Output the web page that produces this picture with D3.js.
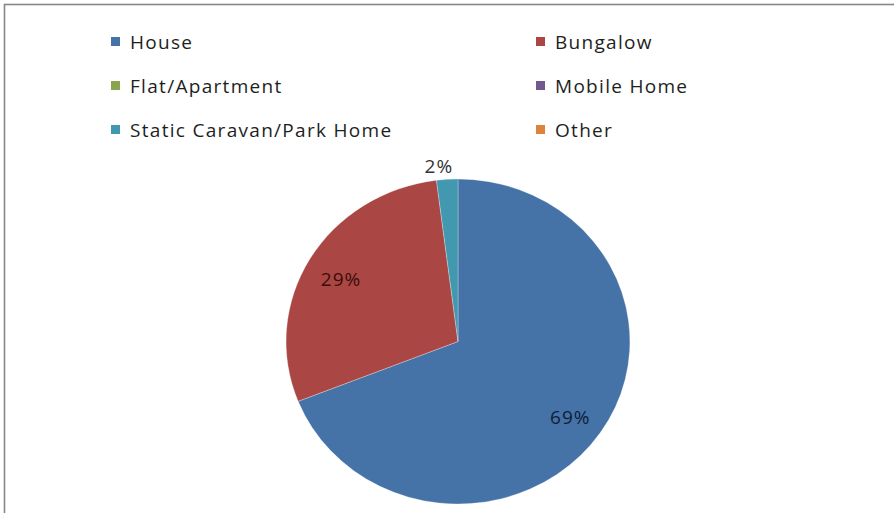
<!DOCTYPE html>
<html>
<head>
<meta charset="utf-8">
<script src="https://cdn.jsdelivr.net/npm/d3@7"></script>
<style>
  html, body { margin: 0; padding: 0; background: #fff; }
  svg { display: block; }
</style>
</head>
<body>
<svg id="chart" width="894" height="513"></svg>
<script>
// Property types and their share (%)
const categories = ["House", "Bungalow", "Flat/Apartment", "Mobile Home", "Static Caravan/Park Home", "Other"];
const shares = [69, 29, 0, 0, 2, 0];
const colors = ["#4572A7", "#AA4643", "#89A54E", "#71588F", "#4198AF", "#DB843D"];
const labelColors = ["#0f1d38", "#3a0d0c", "#89A54E", "#71588F", "#333333", "#DB843D"];

const svg = d3.select("#chart");
const W = 894, H = 513;

// Chart frame
svg.append("rect")
  .attr("x", 4.5).attr("y", 4.5)
  .attr("width", W + 10).attr("height", H + 10)
  .attr("fill", "#fff")
  .attr("stroke", "#878787").attr("stroke-width", 1.6);

const font = "'Open Sans', sans-serif";

// Legend: two columns, three rows
const legendCol = d3.scaleOrdinal().domain([0, 1]).range([111, 536]);
const legendRow = d3.scaleLinear().domain([0, 2]).range([42, 130]);
const legend = svg.append("g");
categories.forEach((c, i) => {
  const g = legend.append("g")
    .attr("transform", `translate(${legendCol(i % 2)},${legendRow(Math.floor(i / 2))})`);
  g.append("rect").attr("x", 0).attr("y", -5).attr("width", 9).attr("height", 9)
    .attr("fill", colors[i]);
  g.append("text").attr("x", 19).attr("y", 0)
    .attr("dominant-baseline", "central")
    .attr("font-family", font).attr("font-size", 19)
    .attr("letter-spacing", 1.3)
    .attr("fill", "#1e1e1e")
    .text(c);
});

// Pie, clockwise from 12 o'clock in series order
const cx = 458, cy = 341.5, r = 162.5, sx = 1.058;
const pie = d3.pie().sort(null).value(d => d)(shares);
const arc = d3.arc().innerRadius(0).outerRadius(r);

svg.append("g")
  .attr("transform", `translate(${cx},${cy}) scale(${sx},1)`)
  .selectAll("path")
  .data(pie.filter(d => d.value > 0))
  .join("path")
  .attr("d", arc)
  .attr("fill", d => colors[d.index])
  .attr("stroke", "#ffffff").attr("stroke-opacity", 0.35).attr("stroke-width", 0.8);

// Data labels: inside for big slices, just outside (left of the edge) for small ones
const inner = d3.arc().innerRadius(r * 0.79).outerRadius(r * 0.79);
const outer = d3.arc().innerRadius(r * 1.1).outerRadius(r * 1.1);
svg.append("g")
  .selectAll("text")
  .data(pie.filter(d => d.value > 0))
  .join("text")
  .attr("transform", d => {
    const small = d.value < 5;
    const p = (small ? outer : inner).centroid(d);
    return `translate(${cx + p[0] * sx + (small ? 7 : 0)},${cy + p[1] + 3})`;
  })
  .attr("text-anchor", d => d.value < 5 ? "end" : "middle")
  .attr("dominant-baseline", "central")
  .attr("font-family", font).attr("font-size", 19)
  .attr("letter-spacing", 1)
  .attr("fill", d => labelColors[d.index])
  .text(d => d.value + "%");
</script>
</body>
</html>
